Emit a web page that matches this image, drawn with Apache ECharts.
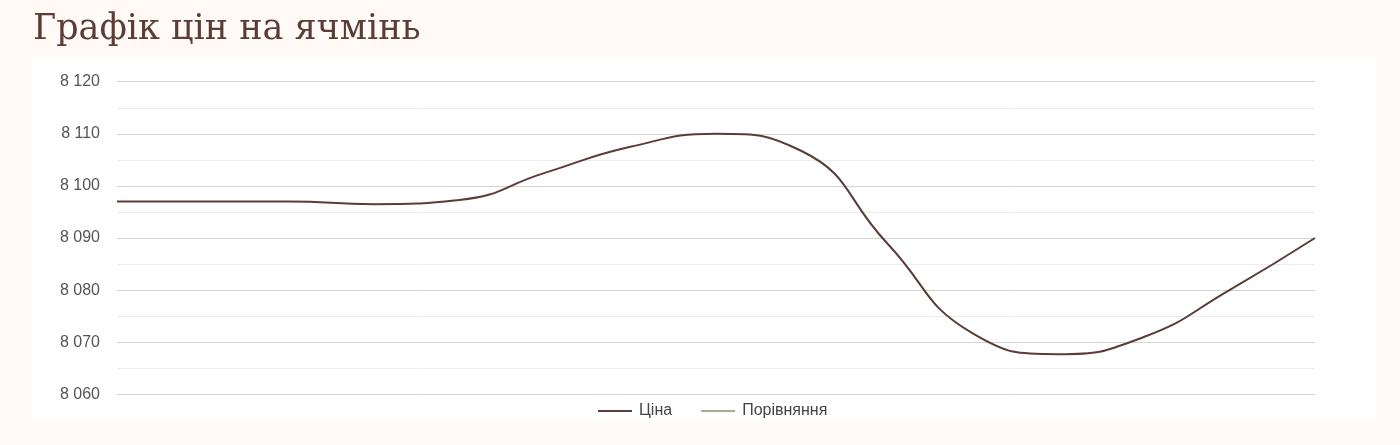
<!DOCTYPE html>
<html>
<head>
<meta charset="utf-8">
<script src="https://cdn.jsdelivr.net/npm/echarts@6/dist/echarts.min.js"></script>
<style>
  html, body { margin: 0; padding: 0; background: #fffaf5; }
  #chart { width: 1400px; height: 445px; }
</style>
</head>
<body>
<div id="chart"></div>
<script>
const titleText = 'Графік цін на ячмінь';
const categories = ['1', '2', '3', '4', '5', '6', '7', '8', '9', '10', '11', '12', '13', '14', '15'];
const priceValues = [8097, 8097, 8097, 8096.5, 8097.3, 8102.5, 8107.5, 8110, 8106.7, 8089, 8071.7, 8067.7, 8071, 8080, 8090];
const compareValues = [];
const seriesNames = ['Ціна', 'Порівняння'];
const yMin = 8060;
const yMax = 8120;
const yInterval = 10;

const chart = echarts.init(document.getElementById('chart'), null, { renderer: 'canvas' });

function fmt(v) {
  const s = String(Math.round(v));
  return s.replace(/\B(?=(\d{3})+(?!\d))/g, ' ');
}

chart.setOption({
  backgroundColor: '#fffaf5',
  animation: false,
  graphic: [{
    type: 'rect',
    z: -10,
    shape: { x: 32, y: 57, width: 1344, height: 363 },
    style: { fill: '#ffffff' },
    silent: true
  }],
  title: {
    text: titleText,
    left: 28,
    top: 7,
    textStyle: {
      fontFamily: 'DejaVu Serif',
      fontWeight: 'normal',
      fontSize: 35,
      color: '#5b3c36'
    }
  },
  legend: {
    left: 593,
    top: 398,
    icon: 'rect',
    itemWidth: 34,
    itemHeight: 2,
    itemGap: 29,
    data: seriesNames,
    textStyle: {
      fontFamily: 'Liberation Sans',
      fontSize: 16,
      color: '#444444',
      padding: [0, 0, 0, 2]
    }
  },
  grid: {
    left: 117,
    right: 85,
    top: 81.7,
    bottom: 50.7,
    containLabel: false
  },
  xAxis: {
    type: 'category',
    data: categories,
    boundaryGap: false,
    axisLine: { show: false },
    axisTick: { show: false },
    axisLabel: { show: false },
    splitLine: { show: false }
  },
  yAxis: {
    type: 'value',
    min: yMin,
    max: yMax,
    interval: yInterval,
    axisLine: { show: false },
    axisTick: { show: false },
    axisLabel: {
      formatter: fmt,
      fontFamily: 'Liberation Sans',
      fontSize: 16,
      color: '#555555',
      margin: 17
    },
    splitLine: { lineStyle: { color: '#d3d3d3', width: 1 } },
    minorTick: { show: false, splitNumber: 2 },
    minorSplitLine: { show: true, lineStyle: { color: '#ececec', width: 1 } }
  },
  series: [
    {
      name: seriesNames[0],
      type: 'line',
      data: priceValues,
      smooth: 0.5,
      showSymbol: false,
      symbol: 'none',
      color: '#5b3c38',
      lineStyle: { color: '#5b3c38', width: 2 }
    },
    {
      name: seriesNames[1],
      type: 'line',
      data: compareValues,
      smooth: 0.5,
      showSymbol: false,
      symbol: 'none',
      color: '#a9aa98',
      lineStyle: { color: '#a9aa98', width: 2 }
    }
  ]
});
</script>
</body>
</html>
